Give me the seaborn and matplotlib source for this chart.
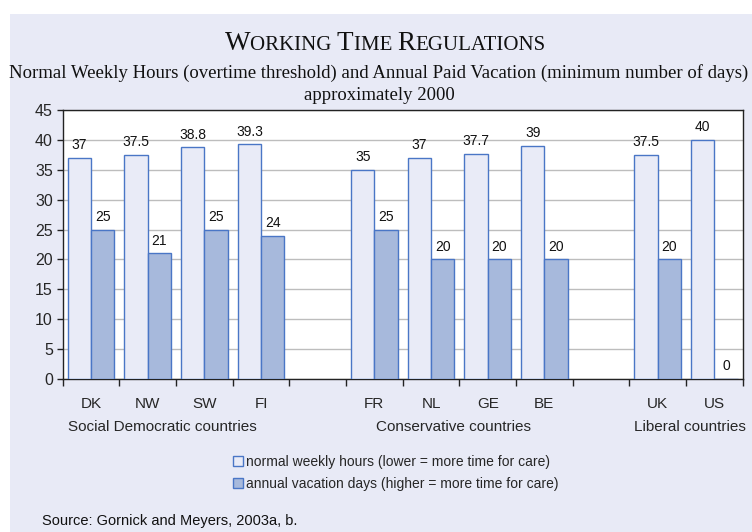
import numpy as np
import pandas as pd
import matplotlib
matplotlib.use("Agg")
import matplotlib.pyplot as plt
import seaborn as sns
from matplotlib.patches import Rectangle, Patch
from matplotlib.offsetbox import TextArea, HPacker, AnchoredOffsetbox

# ---- data ----
slots = ["DK", "NW", "SW", "FI", "gap1", "FR", "NL", "GE", "BE", "gap2", "UK", "US"]
countries = ["DK", "NW", "SW", "FI", "FR", "NL", "GE", "BE", "UK", "US"]
weekly_hours = [37, 37.5, 38.8, 39.3, 35, 37, 37.7, 39, 37.5, 40]
vacation_days = [25, 21, 25, 24, 25, 20, 20, 20, 20, 0]
series_names = ["normal weekly hours (lower = more time for care)",
                "annual vacation days (higher = more time for care)"]
groups = ["Social Democratic countries", "Conservative countries", "Liberal countries"]
yticks = [0, 5, 10, 15, 20, 25, 30, 35, 40, 45]

df = pd.DataFrame({
    "country": countries * 2,
    "measure": [series_names[0]] * len(countries) + [series_names[1]] * len(countries),
    "value": weekly_hours + vacation_days,
})

sns.set_theme(style="white")
plt.rcParams["font.family"] = ["Liberation Sans", "DejaVu Sans"]

BG = "#E8EAF6"
EDGE = "#4A76C6"
LIGHT = "#E9EBF7"
DARK = "#A7B9DC"

fig = plt.figure(figsize=(7.52, 5.32), dpi=100, facecolor="white")
fig.add_artist(Rectangle((10 / 752, 0), 1, 1 - 14 / 532, transform=fig.transFigure,
                         facecolor=BG, edgecolor="none", zorder=-10))

ax = fig.add_axes([62.7 / 752, 1 - 379 / 532, (742.7 - 62.7) / 752, (379 - 110) / 532])
ax.set_facecolor("white")

sns.barplot(data=df, x="country", y="value", hue="measure", order=slots,
            hue_order=series_names, palette=[LIGHT, DARK], saturation=1, width=0.82,
            edgecolor=EDGE, linewidth=1.0, ax=ax, legend=False, zorder=3)

for cont in ax.containers:
    ax.bar_label(cont, fmt="%g", padding=4, fontsize=10, color="#111111")

ax.set_xlim(-0.5, len(slots) - 0.5)
ax.set_ylim(0, 45)
ax.set_yticks(yticks)
ax.set_yticklabels([str(v) for v in yticks], fontsize=11.5)
ax.yaxis.grid(True, color="#BDBDBD", linewidth=1.0, zorder=0)
ax.set_axisbelow(True)
ax.tick_params(axis="y", left=True, length=4, width=1, color="#222222", pad=3)

ax.set_xticks(np.arange(len(slots)))
ax.set_xticklabels(["" if s.startswith("gap") else s for s in slots], fontsize=11)
ax.set_xticks(np.arange(-0.5, len(slots)), minor=True)
ax.tick_params(axis="x", which="major", length=0, pad=13)
ax.tick_params(axis="x", which="minor", bottom=True, length=5, width=1, color="#222222", direction="out")
ax.set_xlabel("")
ax.set_ylabel("")
for sp in ax.spines.values():
    sp.set_visible(True)
    sp.set_color("#222222")
    sp.set_linewidth(1.0)

# group labels
for label, xp in zip(groups, [162, 453, 690]):
    fig.text(xp / 752, 1 - 427 / 532, label, ha="center", va="center", fontsize=11)

# title (small caps)
big, small = 19.5, 15
parts = [("W", big), ("ORKING ", small), ("T", big), ("IME ", small), ("R", big), ("EGULATIONS", small)]
areas = [TextArea(t, textprops=dict(fontsize=s, family="Liberation Serif", color="#111111")) for t, s in parts]
title_box = HPacker(children=areas, align="baseline", pad=0, sep=0)
fig.add_artist(AnchoredOffsetbox(loc="center", child=title_box, frameon=False, pad=0, borderpad=0,
                                 bbox_to_anchor=(385 / 752, 1 - 43 / 532),
                                 bbox_transform=fig.transFigure))
fig.text(379 / 752, 1 - 73 / 532,
         "Normal Weekly Hours (overtime threshold) and Annual Paid Vacation (minimum number of days)",
         ha="center", va="center", fontsize=13.5, family="Liberation Serif", color="#111111")
fig.text(379 / 752, 1 - 95 / 532, "approximately 2000",
         ha="center", va="center", fontsize=13.5, family="Liberation Serif", color="#111111")

handles = [Patch(facecolor=LIGHT, edgecolor=EDGE, linewidth=1.0),
           Patch(facecolor=DARK, edgecolor=EDGE, linewidth=1.0)]
fig.legend(handles, series_names, loc="upper left", bbox_to_anchor=(233 / 752, 1 - 455 / 532),
           frameon=False, fontsize=10, handlelength=0.7, handleheight=0.7, handletextpad=0.25,
           labelspacing=0.55, borderpad=0, borderaxespad=0)

fig.text(42 / 752, 1 - 521 / 532, "Source: Gornick and Meyers, 2003a, b.",
         ha="left", va="center", fontsize=10.5, color="#111111")

fig.savefig("out.png", dpi=100, facecolor=fig.get_facecolor())
